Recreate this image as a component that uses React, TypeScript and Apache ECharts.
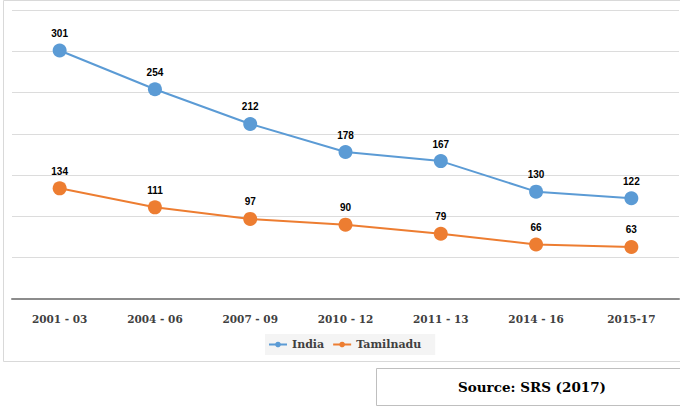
import React, { useEffect, useRef } from "react";
import * as echarts from "echarts";

const categories = ["2001 - 03", "2004 - 06", "2007 - 09", "2010 - 12", "2011 - 13", "2014 - 16", "2015-17"];
const indiaValues = [301, 254, 212, 178, 167, 130, 122];
const tamilnaduValues = [134, 111, 97, 90, 79, 66, 63];
const seriesNames = ["India", "Tamilnadu"];
const sourceText = "Source: SRS (2017)";

export default function App() {
  const ref = useRef<HTMLDivElement>(null);
  useEffect(() => {
    if (!ref.current) return;
    const chart = echarts.init(ref.current, null, { renderer: "svg" });
    const labelStyle = {
      show: true,
      position: "top",
      distance: 5,
      fontFamily: "Liberation Sans",
      fontWeight: "bold",
      fontSize: 10,
      color: "#000",
    };
    chart.setOption({
      animation: false,
      backgroundColor: "#fff",
      graphic: [
        {
          type: "rect",
          shape: { x: 3.5, y: 0.5, width: 700, height: 361 },
          style: { fill: "none", stroke: "#d9d9d9", lineWidth: 1 },
          z: -1,
        },
        {
          type: "rect",
          shape: { x: 376.5, y: 368.5, width: 312, height: 37 },
          style: { fill: "#fff", stroke: "#bfbfbf", lineWidth: 1 },
        },
        {
          type: "text",
          x: 532,
          y: 387,
          style: {
            text: sourceText,
            fontFamily: "DejaVu Serif",
            fontWeight: "bold",
            fontSize: 13.5,
            fill: "#000",
            align: "center",
            verticalAlign: "middle",
          },
        },
      ],
      legend: {
        data: seriesNames,
        left: 265,
        top: 334,
        itemWidth: 18,
        itemHeight: 7,
        itemGap: 8,
        padding: [5, 14, 5, 3],
        backgroundColor: "#f4f4f4",
        textStyle: {
          fontFamily: "DejaVu Serif",
          fontWeight: "bold",
          fontSize: 11,
          color: "#404040",
        },
      },
      grid: { left: 12, right: 1, top: 10, bottom: 110 },
      xAxis: {
        type: "category",
        data: categories,
        boundaryGap: true,
        axisLine: { lineStyle: { color: "#8c8c8c", width: 2 } },
        axisTick: { show: false },
        axisLabel: {
          margin: 14,
          fontFamily: "DejaVu Serif",
          fontWeight: "bold",
          fontSize: 10.5,
          color: "#404040",
          interval: 0,
        },
      },
      yAxis: {
        type: "value",
        min: 0,
        max: 350,
        interval: 50,
        axisLabel: { show: false },
        axisLine: { show: false },
        axisTick: { show: false },
        splitLine: { lineStyle: { color: "#dcdcdc", width: 1 } },
      },
      series: [
        {
          name: seriesNames[0],
          type: "line",
          data: indiaValues,
          symbol: "circle",
          symbolSize: 14,
          color: "#5B9BD5",
          lineStyle: { width: 2, color: "#5B9BD5" },
          itemStyle: { color: "#5B9BD5" },
          label: labelStyle,
        },
        {
          name: seriesNames[1],
          type: "line",
          data: tamilnaduValues,
          symbol: "circle",
          symbolSize: 14,
          color: "#ED7D31",
          lineStyle: { width: 2, color: "#ED7D31" },
          itemStyle: { color: "#ED7D31" },
          label: labelStyle,
        },
      ],
    });
    return () => chart.dispose();
  }, []);
  return (
    <div
      ref={ref}
      style={{ position: "absolute", left: 0, top: 0, width: 680, height: 409 }}
    />
  );
}
